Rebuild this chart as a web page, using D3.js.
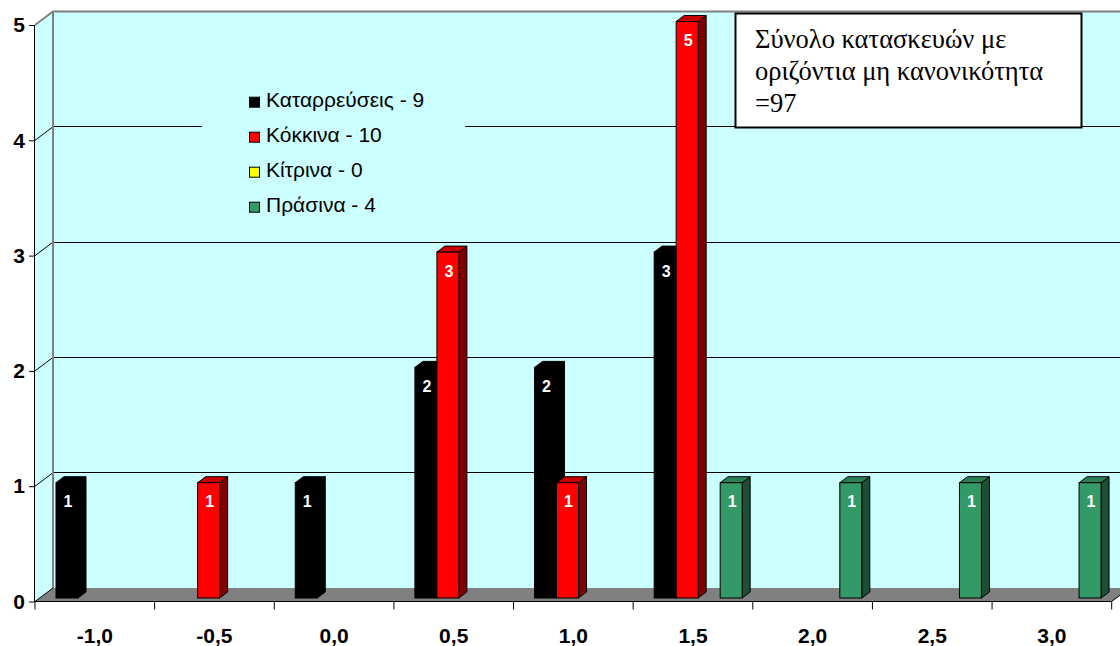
<!DOCTYPE html>
<html>
<head>
<meta charset="utf-8">
<script src="https://cdn.jsdelivr.net/npm/d3@7"></script>
<style>
  html, body { margin: 0; padding: 0; background: #ffffff; }
  svg { display: block; }
</style>
</head>
<body>
<svg id="chart" width="1120" height="646"></svg>
<script>
// Categories (horizontal irregularity bins) and counts per series
const categories = ["-1,0", "-0,5", "0,0", "0,5", "1,0", "1,5", "2,0", "2,5", "3,0"];
const seriesNames = ["Καταρρεύσεις", "Κόκκινα", "Κίτρινα", "Πράσινα"];
const collapses = [1, 0, 1, 2, 2, 3, 0, 0, 0];
const redTags = [0, 1, 0, 3, 1, 5, 0, 0, 0];
const yellowTags = [0, 0, 0, 0, 0, 0, 0, 0, 0];
const greenTags = [0, 0, 0, 0, 0, 1, 1, 1, 1];
const yTicks = [0, 1, 2, 3, 4, 5];
const noteLines = ["Σύνολο κατασκευών με", "οριζόντια μη κανονικότητα", "=97"];

const seriesValues = [collapses, redTags, yellowTags, greenTags];
const seriesFill = [
  { front: "#000000", top: "#000000", side: "#000000" },
  { front: "#ff0000", top: "#c80000", side: "#800000" },
  { front: "#ffff00", top: "#cccc00", side: "#808000" },
  { front: "#339966", top: "#2a7f55", side: "#1d4f36" }
];

const svg = d3.select("#chart");
const wallColor = "#ccffff";
const sans = "Liberation Sans, Arial, sans-serif";

// Front plane scales
const x = d3.scaleBand().domain(categories).range([35, 1111.7]);
const y = d3.scaleLinear().domain([0, 5]).range([601.5, 25]);
// Depth offset of the back wall
const DX = 18, DY = -13.5;
// Bars sit slightly behind the front plane
const BX = 4.5, BY = -3.5;
// Bar depth
const bdx = 8, bdy = -6;
const xs = d3.scaleBand().domain(seriesNames).range([16.5, 16.5 + 88]);

const x0 = x.range()[0], x1 = x.range()[1];

// Back wall
svg.append("rect")
  .attr("x", x0 + DX).attr("y", y(5) + DY)
  .attr("width", 1120 - (x0 + DX) + 5).attr("height", y(0) - y(5))
  .attr("fill", wallColor);

// Side wall
svg.append("path")
  .attr("d", `M${x0},${y(5)}L${x0 + DX},${y(5) + DY}L${x0 + DX},${y(0) + DY}L${x0},${y(0)}Z`)
  .attr("fill", wallColor);

// Floor
svg.append("path")
  .attr("d", `M${x0},${y(0)}L${x1},${y(0)}L${x1 + DX},${y(0) + DY}L${x0 + DX},${y(0) + DY}Z`)
  .attr("fill", "#808080");

// Gridlines on back and side wall
const gridVals = yTicks.filter(v => v > 0 && v < 5);
svg.append("g").selectAll("line.back").data(gridVals).join("line")
  .attr("x1", x0 + DX).attr("x2", 1125)
  .attr("y1", d => y(d) + DY).attr("y2", d => y(d) + DY)
  .attr("stroke", "#000").attr("stroke-width", 1).attr("shape-rendering", "crispEdges");
svg.append("g").selectAll("line.side").data(gridVals).join("line")
  .attr("x1", x0).attr("y1", d => y(d))
  .attr("x2", x0 + DX).attr("y2", d => y(d) + DY)
  .attr("stroke", "#000").attr("stroke-width", 1);

// Wall edges
svg.append("path")
  .attr("d", `M${x0},${y(5)}L${x0 + DX},${y(5) + DY}L1125,${y(5) + DY}M${x0 + DX},${y(5) + DY}L${x0 + DX},${y(0) + DY}`)
  .attr("fill", "none").attr("stroke", "#808080").attr("stroke-width", 2);
svg.append("line")
  .attr("x1", x0).attr("y1", y(0)).attr("x2", x0 + DX).attr("y2", y(0) + DY)
  .attr("stroke", "#000").attr("stroke-width", 1);
svg.append("line")
  .attr("x1", x1).attr("y1", y(0)).attr("x2", x1 + DX).attr("y2", y(0) + DY)
  .attr("stroke", "#000").attr("stroke-width", 1);

// Legend (background breaks the gridline behind it)
const legend = svg.append("g");
legend.append("rect")
  .attr("x", 202).attr("y", 82).attr("width", 263).attr("height", 145)
  .attr("fill", wallColor);
const legendRows = legend.selectAll("g.row").data(seriesNames).join("g")
  .attr("transform", (d, i) => `translate(249,${102.2 + i * 35})`);
legendRows.append("rect")
  .attr("x", 0.5).attr("y", -5).attr("width", 10).attr("height", 10)
  .attr("fill", (d, i) => seriesFill[i].front)
  .attr("stroke", "#000").attr("stroke-width", 1);
legendRows.append("text")
  .attr("x", 17).attr("y", 4.5)
  .attr("font-family", sans)
  .attr("font-size", 21).attr("fill", "#000")
  .text((d, i) => `${d} - ${d3.sum(seriesValues[i])}`);

// Bars (3D columns: side, top, front)
const barW = xs.bandwidth();
const bars = [];
categories.forEach((c, ci) => {
  seriesNames.forEach((s, si) => {
    const v = seriesValues[si][ci];
    if (v > 0) bars.push({ c, s, si, v });
  });
});
const barG = svg.append("g").selectAll("g").data(bars).join("g");
barG.each(function (d) {
  const g = d3.select(this);
  const left = x(d.c) + xs(d.s) + BX;
  const right = left + barW;
  const top = y(d.v) + BY;
  const base = y(0) + BY;
  const col = seriesFill[d.si];
  g.append("path")
    .attr("d", `M${right},${top}L${right + bdx},${top + bdy}L${right + bdx},${base + bdy}L${right},${base}Z`)
    .attr("fill", col.side).attr("stroke", "#000").attr("stroke-width", 1).attr("stroke-linejoin", "round");
  g.append("path")
    .attr("d", `M${left},${top}L${left + bdx},${top + bdy}L${right + bdx},${top + bdy}L${right},${top}Z`)
    .attr("fill", col.top).attr("stroke", "#000").attr("stroke-width", 1).attr("stroke-linejoin", "round");
  g.append("rect")
    .attr("x", left).attr("y", top).attr("width", barW).attr("height", base - top)
    .attr("fill", col.front).attr("stroke", "#000").attr("stroke-width", 1);
  g.append("text")
    .attr("x", left + barW / 2 + 1).attr("y", top + 24.5)
    .attr("text-anchor", "middle")
    .attr("font-family", sans)
    .attr("font-weight", "bold").attr("font-size", 16)
    .attr("fill", "#ffffff")
    .text(d.v);
});

// Y axis
const yAxis = d3.axisLeft(y).tickValues(yTicks).tickSize(6).tickPadding(4).tickFormat(d3.format("d"));
const yg = svg.append("g").attr("transform", `translate(${x0},0)`).call(yAxis);
yg.select(".domain").attr("stroke", "#000").attr("d", `M-0.5,${y(5)}V${y(0)}`);
yg.selectAll(".tick line").attr("stroke", "#000");
yg.selectAll(".tick text")
  .attr("font-family", sans)
  .attr("font-weight", "bold").attr("font-size", 21).attr("fill", "#000");

// X axis: labels at category centres, tick marks at category boundaries
const xAxis = d3.axisBottom(x).tickSize(0).tickPadding(0);
const xg = svg.append("g").attr("transform", `translate(0,${y(0)})`).call(xAxis);
xg.select(".domain").remove();
xg.selectAll(".tick text")
  .attr("dy", null).attr("y", 41)
  .attr("font-family", sans)
  .attr("font-weight", "bold").attr("font-size", 21).attr("fill", "#000");
svg.append("line")
  .attr("x1", x0 - 0.5).attr("x2", x1).attr("y1", y(0)).attr("y2", y(0))
  .attr("stroke", "#000").attr("stroke-width", 1);
const boundaries = categories.map(c => x(c)).concat([x1]);
svg.append("g").selectAll("line").data(boundaries).join("line")
  .attr("x1", d => d).attr("x2", d => d)
  .attr("y1", y(0)).attr("y2", y(0) + 8)
  .attr("stroke", "#000").attr("stroke-width", 1);

// Note box
const note = svg.append("g");
note.append("rect")
  .attr("x", 735.5).attr("y", 13.5).attr("width", 346).attr("height", 114)
  .attr("fill", "#ffffff").attr("stroke", "#000").attr("stroke-width", 2);
note.selectAll("text").data(noteLines).join("text")
  .attr("x", 755).attr("y", (d, i) => 48.3 + i * 31.7)
  .attr("font-family", "Liberation Serif, Times New Roman, serif")
  .attr("font-size", 26.5).attr("fill", "#000")
  .text(d => d);
</script>
</body>
</html>
